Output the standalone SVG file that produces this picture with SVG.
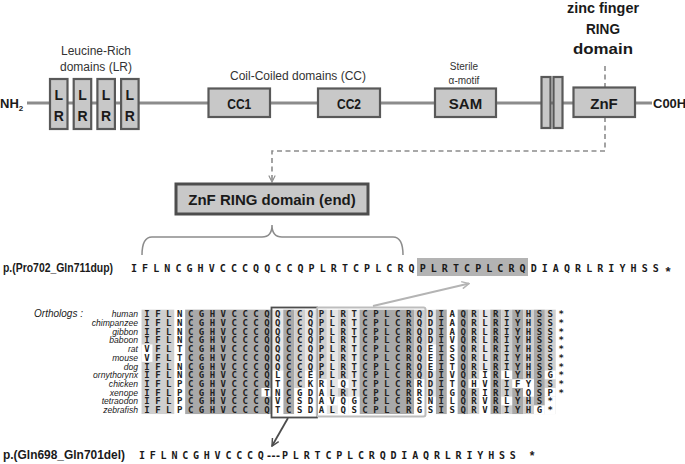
<svg xmlns="http://www.w3.org/2000/svg" width="685" height="464" viewBox="0 0 685 464">
<defs>
<style>
.box{fill:#c8c8c8;stroke:#595959;stroke-width:2.2}
.bt{font-family:"Liberation Sans",Arial,sans-serif;font-weight:bold;fill:#1a1a1a}
.lt{font-family:"Liberation Sans",Arial,sans-serif;fill:#333}
.sp{font-family:"Liberation Sans",Arial,sans-serif;font-style:italic;font-size:8.6px;fill:#1a1a1a;text-anchor:end}
.aln{font-family:"DejaVu Sans Mono",monospace;font-weight:bold;font-size:9px;letter-spacing:5.482px;fill:#222}
.seq{font-family:"DejaVu Sans Mono",monospace;font-weight:bold;font-size:10px;fill:#1a1a1a}
.star{font-family:"Liberation Sans",Arial,sans-serif;font-weight:bold;font-size:13px;fill:#1a1a1a;text-anchor:middle}
.lg{fill:#cfcfcf}.dk{fill:#a9a9a9}.vl{fill:#e6e6e6}.wh{fill:#ffffff}
.c{text-anchor:middle}
</style>
<marker id="ahG" viewBox="0 0 10 10" refX="9" refY="5" markerWidth="9" markerHeight="9" orient="auto" markerUnits="userSpaceOnUse"><path d="M1,1 L9,5 L1,9" fill="none" stroke="#b4b4b4" stroke-width="1.6"/></marker>
<marker id="ahD" viewBox="0 0 10 10" refX="9" refY="5" markerWidth="9" markerHeight="9" orient="auto" markerUnits="userSpaceOnUse"><path d="M1,1 L9,5 L1,9" fill="none" stroke="#4d4d4d" stroke-width="1.6"/></marker>
<marker id="ahM" viewBox="0 0 10 10" refX="9" refY="5" markerWidth="8" markerHeight="8" orient="auto" markerUnits="userSpaceOnUse"><path d="M1,1 L9,5 L1,9" fill="none" stroke="#8c8c8c" stroke-width="1.4"/></marker>
</defs>
<rect width="685" height="464" fill="#ffffff"/>

<g id="connectors" fill="none">
<path d="M605,66 V151 H272 V182" stroke="#8c8c8c" stroke-width="1.6" stroke-dasharray="5 3.5" marker-end="url(#ahM)"/>
<path d="M142,255 Q142,237 152,237 H262 Q272,237 272,225 Q272,237 282,237 H393 Q403,237 403,255" stroke="#8c8c8c" stroke-width="1.5"/>
</g>

<g id="backbone">
<line x1="27" y1="103" x2="652" y2="103" stroke="#8c8c8c" stroke-width="3"/>
<text class="bt" x="0" y="108" font-size="13">NH<tspan font-size="8" dy="3">2</tspan></text>
<text class="bt" x="653" y="108" font-size="13">C00H</text>
</g>

<g id="label-lr">
<text class="lt c" x="96" y="55" font-size="12">Leucine-Rich</text>
<text class="lt c" x="96" y="71" font-size="12">domains (LR)</text>
</g>
<g id="lr1"><rect class="box" x="50" y="79" width="17.5" height="50"/><text class="bt c" x="58.75" y="100" font-size="14">L</text><text class="bt c" x="58.75" y="121" font-size="14">R</text></g>
<g id="lr2"><rect class="box" x="73.7" y="79" width="17.5" height="50"/><text class="bt c" x="82.45" y="100" font-size="14">L</text><text class="bt c" x="82.45" y="121" font-size="14">R</text></g>
<g id="lr3"><rect class="box" x="97.4" y="79" width="17.5" height="50"/><text class="bt c" x="106.15" y="100" font-size="14">L</text><text class="bt c" x="106.15" y="121" font-size="14">R</text></g>
<g id="lr4"><rect class="box" x="121.1" y="79" width="17.5" height="50"/><text class="bt c" x="129.85" y="100" font-size="14">L</text><text class="bt c" x="129.85" y="121" font-size="14">R</text></g>

<g id="label-cc"><text class="lt c" x="298" y="80" font-size="12">Coil-Coiled domains (CC)</text></g>
<g id="cc1"><rect class="box" x="208.5" y="88.5" width="61.5" height="28.5"/><text class="bt c" x="239.25" y="109" font-size="15" textLength="24" lengthAdjust="spacingAndGlyphs">CC1</text></g>
<g id="cc2"><rect class="box" x="318" y="88.5" width="62" height="28.5"/><text class="bt c" x="349" y="109" font-size="15" textLength="24" lengthAdjust="spacingAndGlyphs">CC2</text></g>

<g id="label-sam">
<text class="lt c" x="464" y="70" font-size="10">Sterile</text>
<text class="lt c" x="464" y="84" font-size="10">α-motif</text>
</g>
<g id="sam"><rect class="box" x="435" y="88.5" width="61" height="28.5"/><text class="bt c" x="465.5" y="109" font-size="15">SAM</text></g>

<g id="bars">
<rect class="box" x="541.5" y="77" width="9" height="51"/>
<rect class="box" x="553.5" y="77" width="9" height="51"/>
</g>

<g id="label-znf">
<text class="bt c" x="603" y="13" font-size="15.5" textLength="72" lengthAdjust="spacingAndGlyphs">zinc finger</text>
<text class="bt c" x="603" y="34" font-size="15.5" textLength="34" lengthAdjust="spacingAndGlyphs">RING</text>
<text class="bt c" x="603" y="54" font-size="15.5" textLength="60" lengthAdjust="spacingAndGlyphs">domain</text>
</g>
<g id="znf"><rect class="box" x="573.5" y="87.5" width="61.5" height="29.5"/><text class="bt c" x="604" y="109" font-size="15">ZnF</text></g>

<g id="znf-end"><rect x="176" y="184" width="192" height="30" fill="#c8c8c8" stroke="#4d4d4d" stroke-width="3"/><text class="bt c" x="272" y="205" font-size="15">ZnF RING domain (end)</text></g>

<g id="dup">
<text class="bt" x="3" y="272" font-size="12" textLength="110" lengthAdjust="spacingAndGlyphs">p.(Pro702_Gln711dup)</text>
<rect x="417" y="258" width="111" height="18" fill="#b3b3b3"/>
<text class="seq" x="131" y="272" letter-spacing="-0.47">I F L N C G H V C C C Q Q C C Q P L R T C P L C R Q P L R T C P L C R Q D I A Q R L R I Y H S S</text>
<text class="star" x="668" y="276">*</text>
</g>

<g id="alignment">
<text class="sp" x="83" y="317.3" style="font-size:10px">Orthologs :</text>
<rect class="lg" x="141.55" y="309.65" width="32.7" height="104.4"/>
<rect class="dk" x="185.15" y="309.65" width="87.2" height="104.4"/>
<rect class="vl" x="272.35" y="309.65" width="10.9" height="104.4"/>
<rect class="dk" x="283.25" y="309.65" width="10.9" height="104.4"/>
<rect class="lg" x="294.15" y="309.65" width="10.9" height="104.4"/>
<rect class="vl" x="305.05" y="309.65" width="10.9" height="104.4"/>
<rect class="lg" x="315.95" y="309.65" width="10.9" height="104.4"/>
<rect class="vl" x="326.85" y="309.65" width="10.9" height="104.4"/>
<rect class="lg" x="337.75" y="309.65" width="10.9" height="104.4"/>
<rect class="vl" x="348.65" y="309.65" width="10.9" height="104.4"/>
<rect class="dk" x="359.55" y="309.65" width="54.5" height="104.4"/>
<rect class="lg" x="414.05" y="309.65" width="10.9" height="104.4"/>
<rect class="vl" x="424.95" y="309.65" width="10.9" height="104.4"/>
<rect class="dk" x="435.85" y="309.65" width="10.9" height="104.4"/>
<rect class="dk" x="457.65" y="309.65" width="10.9" height="104.4"/>
<rect class="lg" x="468.55" y="309.65" width="10.9" height="104.4"/>
<rect class="vl" x="479.45" y="309.65" width="10.9" height="104.4"/>
<rect class="dk" x="490.35" y="309.65" width="10.9" height="104.4"/>
<rect class="lg" x="501.25" y="309.65" width="10.9" height="104.4"/>
<rect class="dk" x="512.15" y="309.65" width="10.9" height="104.4"/>
<rect class="lg" x="523.05" y="309.65" width="10.9" height="104.4"/>
<rect class="dk" x="533.95" y="309.65" width="10.9" height="104.4"/>
<rect class="lg" x="544.85" y="309.65" width="10.9" height="104.4"/>
<rect class="wh" x="141.55" y="344.45" width="10.9" height="17.4"/>
<rect class="wh" x="261.45" y="387.95" width="10.9" height="8.7"/>
<rect class="wh" x="272.35" y="370.55" width="10.9" height="43.5"/>
<rect class="wh" x="294.15" y="387.95" width="10.9" height="26.1"/>
<rect class="wh" x="305.05" y="370.55" width="10.9" height="43.5"/>
<rect class="wh" x="315.95" y="379.25" width="10.9" height="34.8"/>
<rect class="wh" x="326.85" y="396.65" width="10.9" height="8.7"/>
<rect class="wh" x="337.75" y="379.25" width="10.9" height="8.7"/>
<rect class="wh" x="337.75" y="396.65" width="10.9" height="17.4"/>
<rect class="wh" x="348.65" y="396.65" width="10.9" height="17.4"/>
<rect class="wh" x="414.05" y="379.25" width="10.9" height="34.8"/>
<rect class="wh" x="424.95" y="344.45" width="10.9" height="26.1"/>
<rect class="wh" x="424.95" y="396.65" width="10.9" height="17.4"/>
<rect class="wh" x="468.55" y="379.25" width="10.9" height="8.7"/>
<rect class="wh" x="479.45" y="370.55" width="10.9" height="43.5"/>
<rect class="wh" x="501.25" y="370.55" width="10.9" height="8.7"/>
<rect class="wh" x="501.25" y="396.65" width="10.9" height="8.7"/>
<rect class="wh" x="512.15" y="379.25" width="10.9" height="8.7"/>
<rect class="wh" x="523.05" y="379.25" width="10.9" height="17.4"/>
<rect class="wh" x="533.95" y="405.35" width="10.9" height="8.7"/>
<rect class="wh" x="544.85" y="370.55" width="10.9" height="8.7"/>
<rect class="wh" x="544.85" y="387.95" width="10.9" height="8.7"/>
<rect class="wh" x="544.85" y="396.65" width="10.9" height="17.4"/>

<text class="sp" x="138" y="317.3">human</text>
<text class="sp" x="138" y="326">chimpanzee</text>
<text class="sp" x="138" y="334.7">gibbon</text>
<text class="sp" x="138" y="343.4">baboon</text>
<text class="sp" x="138" y="352.1">rat</text>
<text class="sp" x="138" y="360.8">mouse</text>
<text class="sp" x="138" y="369.5">dog</text>
<text class="sp" x="138" y="378.2">ornythorynx</text>
<text class="sp" x="138" y="386.9">chicken</text>
<text class="sp" x="138" y="395.6">xenope</text>
<text class="sp" x="138" y="404.3">tetraodon</text>
<text class="sp" x="138" y="413">zebrafish</text>

<text class="aln" x="144.29" y="317.3">IFLNCGHVCCCQQCCQPLRTCPLCRQDIAQRLRIYHSS*</text>
<text class="aln" x="144.29" y="326">IFLNCGHVCCCQQCCQPLRTCPLCRQDIAQRLRIYHSS*</text>
<text class="aln" x="144.29" y="334.7">IFLNCGHVCCCQQCCQPLRTCPLCRQDIAQRLRIYHSS*</text>
<text class="aln" x="144.29" y="343.4">IFLNCGHVCCCQQCCQPLRTCPLCRQDIVQRLRIYHSS*</text>
<text class="aln" x="144.29" y="352.1">VFLTCGHVCCCQQCCQPLRTCPLCRQEISQRLRIYHSS*</text>
<text class="aln" x="144.29" y="360.8">VFLTCGHVCCCQQCCQPLRTCPLCRQEISQRLRIYHSS*</text>
<text class="aln" x="144.29" y="369.5">IFLNCGHVCCCQQCCQPLRTCPLCRQEITQRLRIYHSS*</text>
<text class="aln" x="144.29" y="378.2">IFLNCGHVCCCQLCCEPLRTCPLCRQDIVQRIRLYHSG*</text>
<text class="aln" x="144.29" y="386.9">IFLPCGHVCCCQTCCKRLQTCPLCRRDITQHVRIFYSS*</text>
<text class="aln" x="144.29" y="395.6">IFLPCGHVCCCTNCGDALRTCPLCRRDIGQRIRIYQSP*</text>
<text class="aln" x="144.29" y="404.3">IFLPCGHVCCCQVCSDAVQGCPLCRSNILQRVRLYHS*</text>
<text class="aln" x="144.29" y="413">IFLPCGHVCCCQTCSDALQSCPLCRGSISQRVRIYHG*</text>

<rect x="271.5" y="307.5" width="45.5" height="110" fill="none" stroke="#4d4d4d" stroke-width="1.8"/>
<rect x="316.8" y="307.5" width="108.7" height="109" rx="2" fill="none" stroke="#bdbdbd" stroke-width="2"/>
</g>

<g id="arrows" fill="none">
<line x1="373" y1="306" x2="469" y2="283.5" stroke="#b4b4b4" stroke-width="2" marker-end="url(#ahG)"/>
<line x1="288" y1="418" x2="272" y2="446" stroke="#4d4d4d" stroke-width="1.8" marker-end="url(#ahD)"/>
</g>

<g id="del">
<text class="bt" x="3" y="459" font-size="13" textLength="122" lengthAdjust="spacingAndGlyphs">p.(Gln698_Gln701del)</text>
<text class="seq" x="139" y="459" letter-spacing="-0.62">I F L N C G H V C C C Q</text>
<text class="seq" x="266" y="459" letter-spacing="-1.5">---</text>
<text class="seq" x="282" y="459" letter-spacing="-0.595">P L R T C P L C R Q D I A Q R L R I Y H S S</text>
<text class="star" x="532" y="460" style="font-size:12px">*</text>
</g>
</svg>
